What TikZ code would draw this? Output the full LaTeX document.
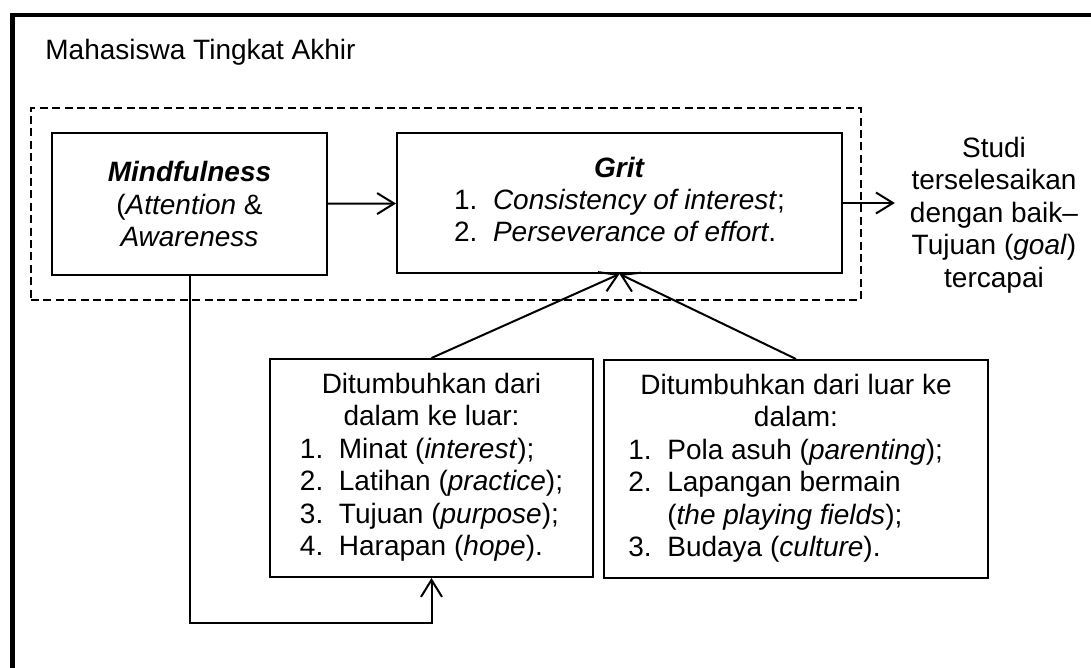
\documentclass[tikz,border=0pt]{standalone}
\usepackage{fontspec}
\setmainfont{Liberation Sans}
\usetikzlibrary{arrows.meta, positioning}
\newdimen\px \px=0.5pt
\newcommand\nomor[1]{\makebox[19.5pt][l]{#1}}

\begin{document}
\begin{tikzpicture}[
  x=0.5pt, y=-0.5pt,
  box/.style  = {rectangle, draw=black, line width=1pt, inner sep=0pt,
                 align=center},
  dashbox/.style = {rectangle, draw=black, line width=1pt,
                    dash pattern=on 4pt off 2.2pt, inner sep=0pt},
  arr/.style  = {-{Straight Barb[length=8.5pt, width=10.5pt]}, line width=1pt},
  every node/.style = {font=\fontsize{14}{16.2}\selectfont}
]
\clip (0,0) rectangle (1091,668);

% outer frame (cut off at right and bottom)
\draw[line width=2.2pt] (12.5,700) -- (12.5,15) -- (1120,15);

\node[anchor=base west, inner sep=0pt] (judul) at (45,60) {Mahasiswa Tingkat Akhir};

\node[dashbox, minimum width=830\px, minimum height=192\px] (frame) at (446,204) {};
\node[box, minimum width=275\px, minimum height=142\px] (mind) at (189.5,204)
  {\textbf{\textit{Mindfulness}}\\(\textit{Attention} \&\\\textit{Awareness}};
\node[box, minimum width=445\px, minimum height=140\px] (grit) at (619.5,203)
  {\begin{tabular}{@{}l@{}}
   \multicolumn{1}{c}{\textbf{\textit{Grit}}}\\
   \nomor{1.}\textit{Consistency of interest};\\
   \nomor{2.}\textit{Perseverance of effort}.
   \end{tabular}};
\node[align=center] (studi) at (994,215)
  {Studi\\terselesaikan\\dengan baik\textendash\\Tujuan (\textit{goal})\\tercapai};

\node[box, minimum width=323\px, minimum height=218\px] (dalam) at (431.5,468)
  {\begin{tabular}{@{}l@{}}
   \multicolumn{1}{c}{Ditumbuhkan dari}\\
   \multicolumn{1}{c}{dalam ke luar:}\\
   \nomor{1.}Minat (\textit{interest});\\
   \nomor{2.}Latihan (\textit{practice});\\
   \nomor{3.}Tujuan (\textit{purpose});\\
   \nomor{4.}Harapan (\textit{hope}).
   \end{tabular}};
\node[box, minimum width=384\px, minimum height=218\px] (luar) at (796,469)
  {\begin{tabular}{@{}l@{}}
   \multicolumn{1}{c}{Ditumbuhkan dari luar ke}\\
   \multicolumn{1}{c}{dalam:}\\
   \nomor{1.}Pola asuh (\textit{parenting});\\
   \nomor{2.}Lapangan bermain\\
   \nomor{}(\textit{the playing fields});\\
   \nomor{3.}Budaya (\textit{culture}).
   \end{tabular}};

\draw[arr] (mind) -- (grit);
\draw[arr, shorten >=4pt] (grit.east) -- (grit.east -| studi.west);
\draw[arr] (dalam.north) -- (grit.south);
\draw[arr] (luar.north) -- (grit.south);
\draw[arr] (mind.south) -- ++(0,347) -| (dalam.south);

\end{tikzpicture}
\end{document}
